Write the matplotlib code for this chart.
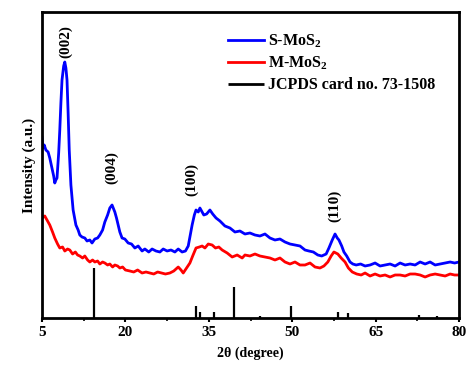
import matplotlib
matplotlib.use("Agg")
import matplotlib.pyplot as plt
from matplotlib.ticker import FixedLocator

plt.rcParams['font.family'] = ['Liberation Serif', 'DejaVu Serif']
plt.rcParams['font.weight'] = 'bold'
plt.rcParams['mathtext.fontset'] = 'custom'
plt.rcParams['mathtext.rm'] = 'Liberation Serif:bold'
plt.rcParams['mathtext.bf'] = 'Liberation Serif:bold'

# S-MoS2 (blue): (2theta, intensity)
s_pts = [(5.0, 181), (5.2, 170), (5.4, 173), (5.7, 168), (6.1, 166), (6.4, 160), (6.8, 150), (7.1, 142),
         (7.3, 135), (7.5, 138), (7.7, 140), (8.0, 165), (8.2, 188), (8.4, 215), (8.6, 238), (8.9, 252),
         (9.1, 256), (9.3, 250), (9.5, 238), (9.7, 205), (9.9, 168), (10.2, 133), (10.6, 108), (11.1, 93),
         (11.5, 88), (11.8, 83), (12.2, 81), (12.7, 80), (13.1, 77), (13.6, 78), (14.0, 75), (14.5, 79),
         (15.0, 80), (15.4, 83), (15.9, 88), (16.3, 96), (16.8, 103), (17.2, 110), (17.6, 113), (18.1, 106),
         (18.4, 100), (18.7, 93), (19.0, 86), (19.4, 80), (19.9, 79), (20.5, 75), (21.1, 74), (21.7, 70),
         (22.3, 72), (23.0, 67), (23.5, 69), (24.2, 66), (24.8, 69), (25.5, 67), (26.2, 66), (26.8, 69),
         (27.5, 67), (28.2, 68), (28.9, 66), (29.5, 69), (30.2, 66), (30.8, 67), (31.3, 72), (31.7, 84),
         (32.0, 93), (32.4, 103), (32.7, 108), (33.1, 106), (33.4, 110), (33.8, 106), (34.1, 103),
         (34.6, 104), (35.2, 108), (35.7, 104), (36.3, 100), (37.0, 97), (37.9, 92), (38.8, 90), (39.7, 86),
         (40.6, 87), (41.5, 84), (42.4, 85), (43.3, 83), (44.2, 82), (45.1, 84), (46.0, 80), (46.9, 78),
         (47.8, 79), (48.7, 76), (49.6, 74), (50.5, 73), (51.4, 72), (52.3, 68), (53.0, 67), (53.8, 66),
         (54.6, 63), (55.3, 62), (56.1, 64), (56.6, 70), (57.2, 78), (57.7, 84), (58.1, 80), (58.4, 78),
         (58.9, 72), (59.3, 66), (59.8, 62), (60.4, 56), (60.9, 54), (61.5, 53), (62.3, 54), (63.1, 52),
         (64.0, 53), (64.9, 55), (65.8, 52), (66.7, 53), (67.6, 54), (68.5, 52), (69.4, 55), (70.3, 53),
         (71.2, 54), (72.1, 53), (73.0, 56), (73.9, 54), (74.8, 56), (75.7, 53), (76.6, 54), (77.5, 55),
         (78.4, 56), (79.2, 55), (80.0, 56)]

# M-MoS2 (red): (2theta, intensity)
m_pts = [(5.0, 100), (5.5, 102), (6.0, 97), (6.4, 93), (6.9, 86), (7.3, 80), (7.8, 74), (8.2, 70),
         (8.7, 71), (9.1, 67), (9.6, 69), (10.0, 68), (10.5, 64), (11.0, 66), (11.4, 63), (11.8, 62),
         (12.3, 60), (12.7, 62), (13.2, 58), (13.6, 56), (14.1, 58), (14.5, 56), (15.0, 57), (15.4, 54),
         (15.9, 56), (16.3, 55), (16.8, 53), (17.2, 54), (17.7, 51), (18.1, 53), (18.6, 52), (19.0, 50),
         (19.5, 51), (20.0, 48), (20.8, 47), (21.5, 46), (22.2, 48), (23.0, 45), (23.7, 46), (24.4, 45),
         (25.1, 44), (25.8, 46), (26.5, 45), (27.2, 44), (28.0, 45), (28.7, 47), (29.5, 51), (30.0, 48),
         (30.4, 45), (31.0, 50), (31.6, 55), (32.1, 62), (32.7, 70), (33.3, 71), (33.8, 72), (34.3, 70),
         (34.9, 74), (35.6, 73), (36.2, 70), (36.8, 71), (37.4, 68), (38.3, 65), (39.2, 61), (40.1, 63),
         (41.0, 60), (41.5, 63), (42.4, 62), (43.3, 64), (44.2, 62), (45.1, 61), (46.0, 60), (46.9, 58),
         (47.8, 60), (48.7, 56), (49.6, 54), (50.5, 56), (51.4, 53), (52.3, 53), (53.2, 55), (54.1, 51),
         (55.0, 50), (55.7, 52), (56.4, 56), (57.0, 62), (57.5, 66), (58.2, 64), (58.8, 60), (59.5, 56),
         (60.1, 50), (60.8, 46), (61.6, 44), (62.4, 43), (63.1, 45), (64.0, 42), (64.9, 44), (65.8, 42),
         (66.7, 43), (67.6, 41), (68.5, 43), (69.4, 43), (70.3, 42), (71.2, 44), (72.1, 44), (73.0, 43),
         (73.9, 41), (74.8, 43), (75.7, 44), (76.6, 43), (77.5, 42), (78.4, 44), (79.2, 43), (80.0, 43)]

s_x = [p[0] for p in s_pts]
s_y = [p[1] for p in s_pts]
m_x = [p[0] for p in m_pts]
m_y = [p[1] for p in m_pts]

# JCPDS card no. 73-1508 reference lines
ref_x = [14.4, 32.7, 33.5, 35.9, 39.5, 44.2, 49.8, 58.3, 60.1, 72.8, 76.0]
ref_h = [50, 12, 6, 6, 31, 2, 12, 6, 5, 3, 2]

x_ticks = [5, 20, 35, 50, 65, 80]
x_minor = [12.5, 27.5, 42.5, 57.5, 72.5]

annot_text = ['(002)', '(004)', '(100)', '(110)']
annot_x = [9.2, 17.6, 32.0, 57.7]
annot_y = [276, 150, 138, 112]

fig = plt.figure(figsize=(4.75, 3.75), dpi=100)
ax = fig.add_axes([0.0884, 0.152, 0.878, 0.816])

ax.plot(s_x, s_y, color='#0000ff', lw=2.0, label='S-MoS$_2$')
ax.plot(m_x, m_y, color='#ff0000', lw=2.0, label='M-MoS$_2$')
ax.vlines(ref_x, 0, ref_h, color='black', lw=1.6, label='JCPDS card no. 73-1508')

for t, xx, yy in zip(annot_text, annot_x, annot_y):
    ax.text(xx, yy, t, rotation=90, ha='center', va='center', fontsize=11, fontweight='bold')

ax.set_xlim(5, 80)
ax.set_ylim(0, 306)
ax.xaxis.set_major_locator(FixedLocator(x_ticks))
ax.xaxis.set_minor_locator(FixedLocator(x_minor))
ax.set_xticklabels([str(t) for t in x_ticks])
ax.set_yticks([])
ax.tick_params(axis='x', which='major', direction='out', length=3, width=1.5, labelsize=11, pad=3)
ax.tick_params(axis='x', which='minor', direction='out', length=2, width=1.2)
for lab in ax.get_xticklabels():
    lab.set_fontweight('bold')
for sp in ax.spines.values():
    sp.set_linewidth(2.0)

ax.set_xlabel('2θ (degree)', fontsize=10, fontweight='bold', labelpad=5)
ax.set_ylabel('Intensity (a.u.)', fontsize=11, fontweight='bold', labelpad=4)

leg = ax.legend(loc='upper left', bbox_to_anchor=(0.43, 0.955), frameon=False, fontsize=11.5,
                handlelength=2.3, handletextpad=0.2, labelspacing=0.3, borderaxespad=0)
for line in leg.get_lines():
    line.set_linewidth(2.0)

fig.savefig('out.png', dpi=100)
